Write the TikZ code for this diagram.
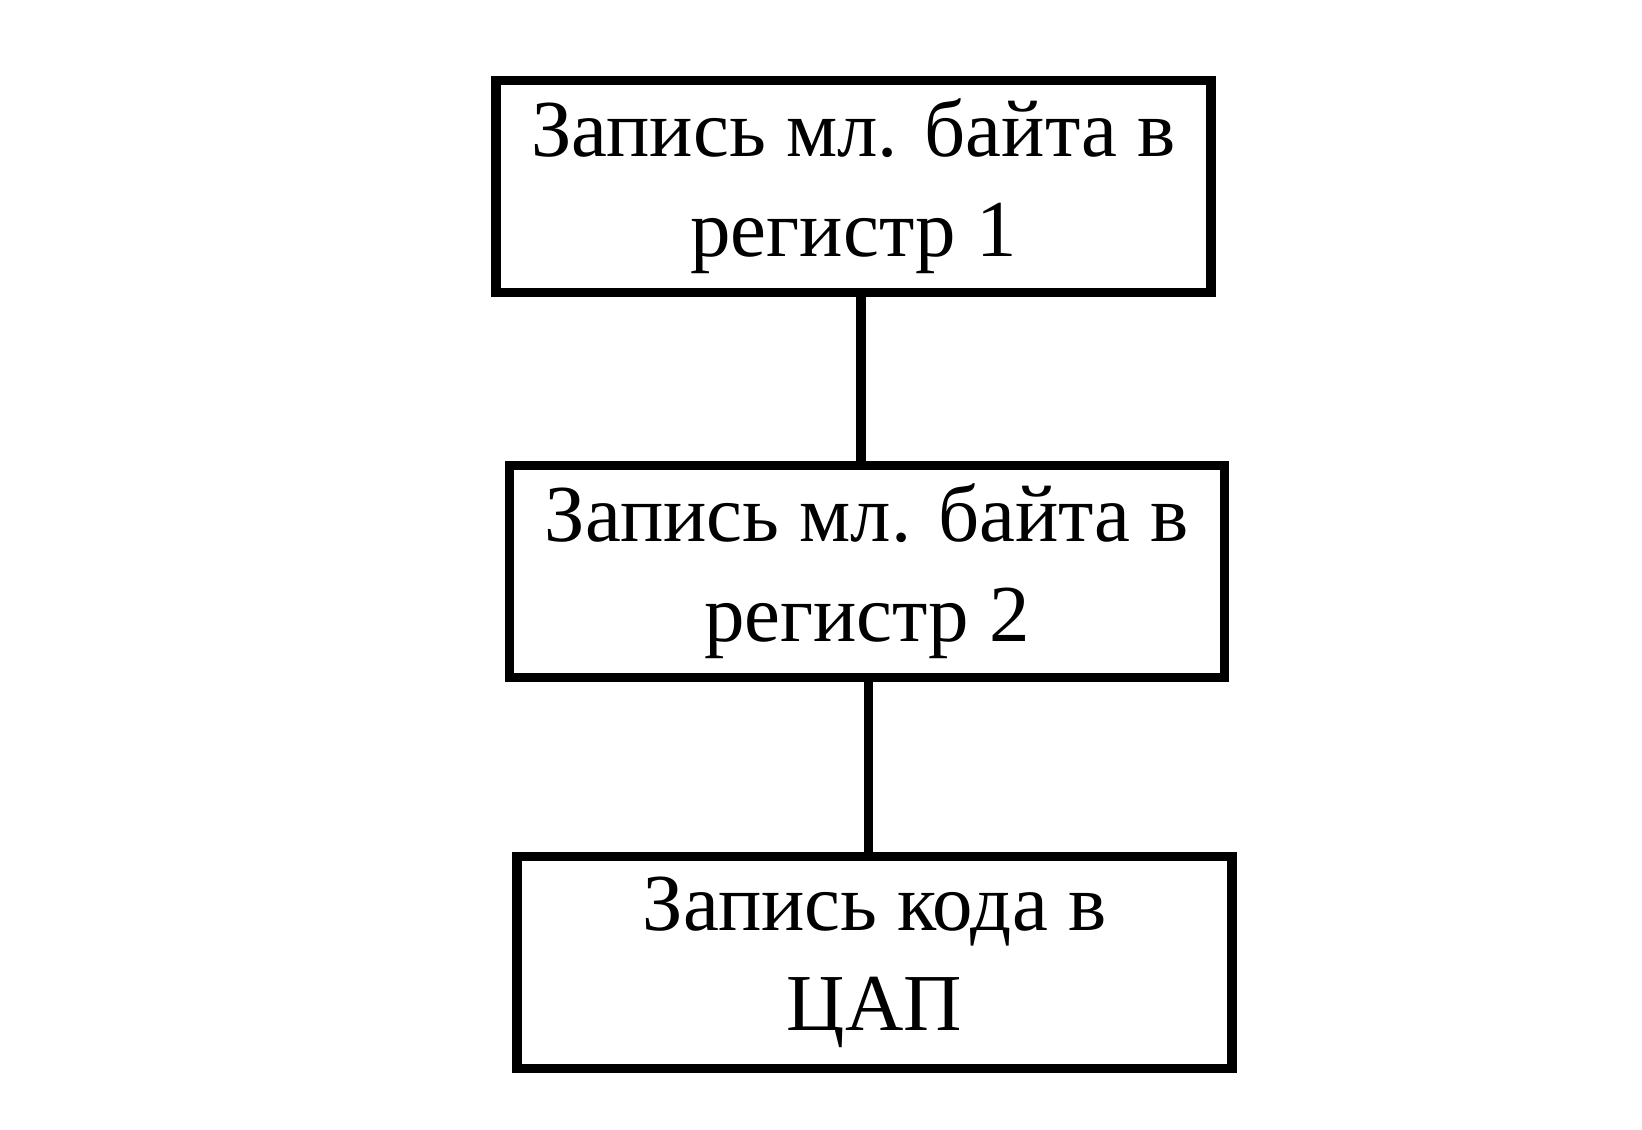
\documentclass[tikz,border=0pt]{standalone}
\usepackage{fontspec}
\setmainfont{Liberation Serif}

\tikzset{
  stepbox/.style = {shape=rectangle, draw, line width=2.6pt, align=center,
                    minimum width=7.15cm, minimum height=2.12cm,
                    inner sep=0pt, font=\fontsize{23}{28.5}\selectfont},
  firstbox/.style = {stepbox},
  nextbox/.style  = {stepbox}
}

\begin{document}
\begin{tikzpicture}
[
grow=down,
    edge from parent/.style = {draw, line width=2.6pt},
    edge from parent path   = {([xshift=-0.6mm]\tikzparentnode.south -| \tikzchildnode.north) -- ([xshift=-0.6mm]\tikzchildnode.north)},
    level 1/.style          = {level distance=3.85cm},
    level 2/.style          = {level distance=3.91cm}
  ]
\useasboundingbox (0,0) rectangle (16.42,-11.30);
\node[firstbox] (reg1) at (8.535,-1.865) {Запись мл. байта в\\регистр 1}
child {
    node[nextbox, xshift=1.35mm] (reg2) {Запись мл. байта в\\регистр 2}
    child {
        node[nextbox, xshift=0.75mm] (dac) {Запись кода в\\ЦАП}
        }
    };
\end{tikzpicture}
\end{document}
